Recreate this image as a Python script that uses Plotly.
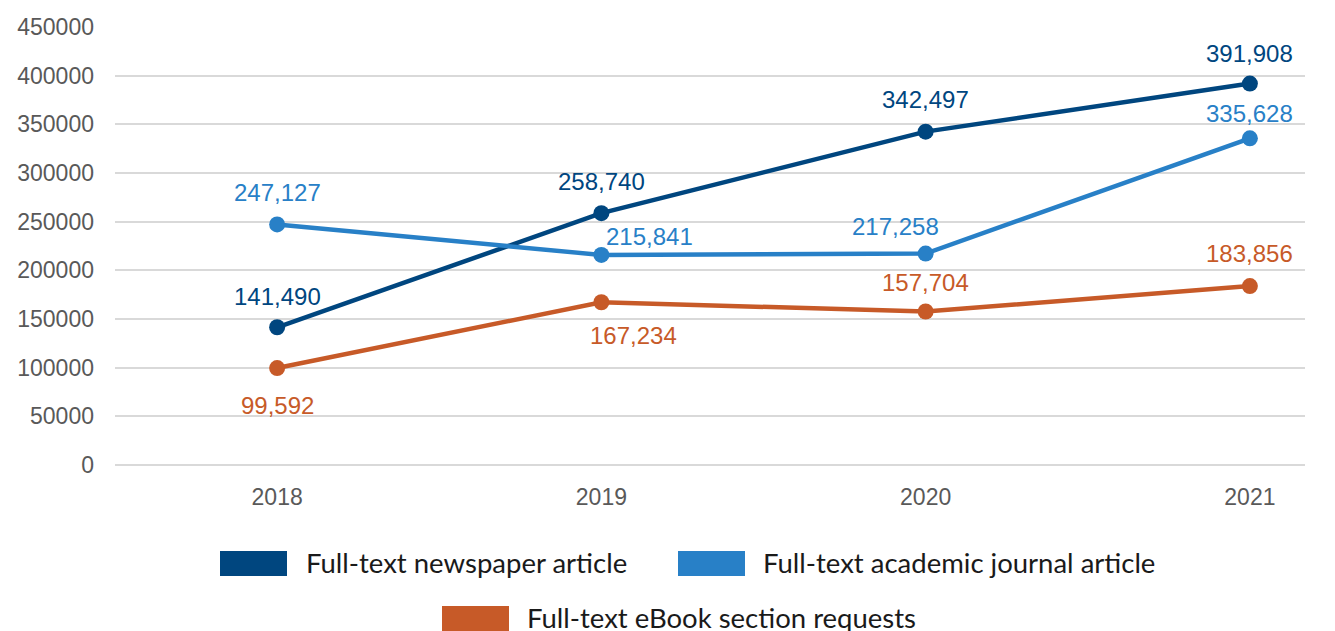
import plotly.graph_objects as go

years = ["2018", "2019", "2020", "2021"]
newspaper = [141490, 258740, 342497, 391908]
journal = [247127, 215841, 217258, 335628]
ebook = [99592, 167234, 157704, 183856]
names = ["Full-text newspaper article", "Full-text academic journal article",
         "Full-text eBook section requests"]
y_ticks = [0, 50000, 100000, 150000, 200000, 250000, 300000, 350000, 400000, 450000]

colors = ["#00467F", "#2880C7", "#C75A28"]
# label offsets (pixels) per point: (xshift, yshift)
offsets = [
    [(0, 31), (0, 32), (0, 32), (0, 30)],
    [(0, 32), (48, 18), (-30, 27), (0, 25)],
    [(0, -37), (32, -33), (0, 29), (0, 33)],
]

W, H = 1335, 631
L, R, T, B = 115, 30, 27, 166
pw, ph = W - L - R, H - T - B

def px(x):
    return (x - L) / pw

def py(y):
    return (H - B - y) / ph

fig = go.Figure()
series = [newspaper, journal, ebook]
annotations = []
for s, name, c, offs in zip(series, names, colors, offsets):
    fig.add_trace(go.Scatter(x=years, y=s, name=name, mode="lines+markers",
                             line=dict(color=c, width=4.5),
                             marker=dict(color=c, size=16),
                             showlegend=False))
    for i, (yv, (dx, dy)) in enumerate(zip(s, offs)):
        annotations.append(dict(x=i, y=yv, xref="x", yref="y", text=f"{yv:,}",
                                showarrow=False, xshift=dx, yshift=dy,
                                font=dict(family="Liberation Sans, Arial", size=24, color=c)))

# legend drawn manually
legend_items = [
    (names[0], colors[0], 220, 287, 551, 576, 304),
    (names[1], colors[1], 678, 745, 551, 576, 761),
    (names[2], colors[2], 442, 509, 606, 631, 525),
]
shapes = []
for name, c, x0, x1, y0, y1, tx in legend_items:
    shapes.append(dict(type="rect", xref="paper", yref="paper",
                       x0=px(x0), x1=px(x1), y0=py(y1), y1=py(y0),
                       fillcolor=c, line=dict(width=0)))
    annotations.append(dict(x=px(tx), y=py((y0 + y1) / 2 - 1), xref="paper", yref="paper",
                            text=name, showarrow=False, xanchor="left", yanchor="middle",
                            font=dict(family="Lato", size=27.5, color="#1a1a1a")))

fig.update_layout(
    width=W, height=H,
    margin=dict(l=L, r=R, t=T, b=B),
    plot_bgcolor="white", paper_bgcolor="white",
    annotations=annotations, shapes=shapes,
    showlegend=False,
    xaxis=dict(type="category", range=[-0.5, 3.17], showgrid=False,
               showline=False, zeroline=False,
               tickfont=dict(family="Liberation Sans, Arial", size=23, color="#595959"),
               ticks="", ticklabelstandoff=16),
    yaxis=dict(range=[0, 450000], tickvals=y_ticks, ticktext=[str(v) for v in y_ticks],
               showgrid=True, gridcolor="#D9D9D9", gridwidth=2,
               zeroline=True, zerolinecolor="#D9D9D9", zerolinewidth=2,
               showline=False,
               tickfont=dict(family="Liberation Sans, Arial", size=23, color="#595959"),
               ticks="", ticklabelstandoff=20),
)

fig.write_html("out.html", config={"displayModeBar": False},
               post_script="document.body.style.margin='0';document.body.style.overflow='hidden';")
